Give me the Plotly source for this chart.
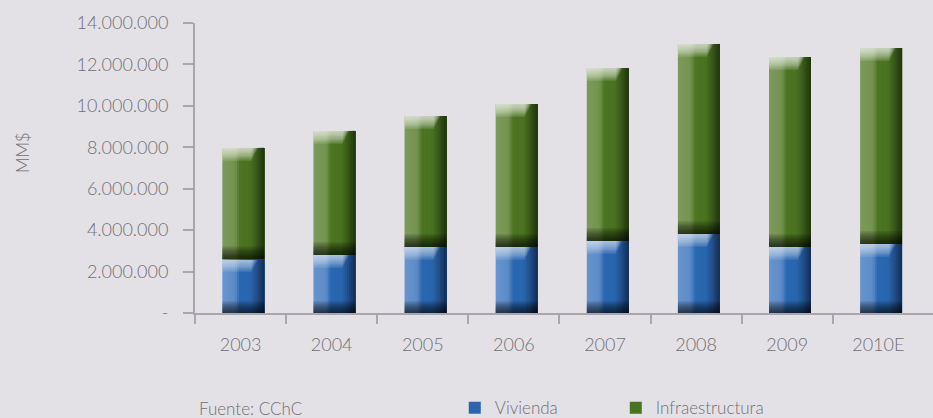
import numpy as np
import plotly.graph_objects as go

# Inversión en construcción por año (MM$)
years = ["2003", "2004", "2005", "2006", "2007", "2008", "2009", "2010E"]
vivienda = [2600000, 2800000, 3190000, 3190000, 3480000, 3810000, 3190000, 3330000]
infraestructura = [5370000, 5990000, 6320000, 6900000, 8350000, 9180000, 9170000, 9460000]
y_ticks = [0, 2000000, 4000000, 6000000, 8000000, 10000000, 12000000, 14000000]

# Estilo
BG = "#e3e1e6"
AXIS = "#a9a7ad"
TEXT = "#707074"
FONT = "Lato"
WEIGHT = 300
YMAX = 14000000
PLOT_H = 290  # alto del área de trazado en px
BAR_W = 0.46
BAR_SHIFT = 0.03  # las barras quedan levemente a la derecha del centro
N_STRIPES = 20
N_LAYERS = 10

# Degradado horizontal de cada serie (posición, color)
GRAD = {
    "Vivienda": [(0.0, "#6795ce"), (0.30, "#5c8bc7"), (0.42, "#2a67b1"),
                 (0.66, "#2966b0"), (0.82, "#214f8b"), (1.0, "#132c52")],
    "Infraestructura": [(0.0, "#7c9a5a"), (0.30, "#74934f"), (0.42, "#4c7422"),
                        (0.66, "#4a7320"), (0.82, "#385819"), (1.0, "#20340d")],
}
SOLID = {"Vivienda": "#2a66b0", "Infraestructura": "#4a7320"}
TOP_PX = {"Vivienda": 13, "Infraestructura": 13}
TOP_A = {"Vivienda": 0.085, "Infraestructura": 0.11}
BOT_PX = {"Vivienda": 12, "Infraestructura": 13}
BOT_A = {"Vivienda": 0.085, "Infraestructura": 0.09}


def hex_rgb(h):
    h = h.lstrip("#")
    return np.array([int(h[i:i + 2], 16) for i in (0, 2, 4)], dtype=float)


def grad_color(stops, t):
    for (t0, c0), (t1, c1) in zip(stops[:-1], stops[1:]):
        if t <= t1:
            f = (t - t0) / (t1 - t0)
            c = hex_rgb(c0) * (1 - f) + hex_rgb(c1) * f
            return "rgb(%d,%d,%d)" % tuple(np.round(c))
    c = hex_rgb(stops[-1][1])
    return "rgb(%d,%d,%d)" % tuple(c)


x = np.arange(len(years))
px_to_val = YMAX / PLOT_H
LEFT = -BAR_W / 2 + BAR_SHIFT
RIGHT = BAR_W / 2 + BAR_SHIFT

fig = go.Figure()


def add_segment(name, base, vals):
    base = np.asarray(base, dtype=float)
    vals = np.asarray(vals, dtype=float)
    top = base + vals
    stops = GRAD[name]
    mid = N_STRIPES // 2
    # franjas verticales (degradado horizontal), cada una cubre hasta el borde derecho
    for i in range(N_STRIPES):
        t = (i + 0.5) / N_STRIPES
        left = LEFT + i * BAR_W / N_STRIPES
        legend = i == mid
        fig.add_trace(go.Bar(
            x=x, y=vals, base=base, offset=left, width=RIGHT - left,
            marker=dict(color=SOLID[name] if legend else grad_color(stops, t),
                        line=dict(width=0)),
            name=name, showlegend=legend, legendgroup=name, hoverinfo="skip",
        ))
    # brillo superior (más ancho arriba, con borde en diagonal)
    h_top = TOP_PX[name] * px_to_val
    for k in range(1, N_LAYERS + 1):
        h = h_top * k / N_LAYERS
        frac = 0.86 - 0.16 * k / N_LAYERS
        fig.add_trace(go.Bar(
            x=x, y=np.full(len(x), h), base=top - h, offset=LEFT, width=BAR_W * frac,
            marker=dict(color="rgba(255,255,255,%.3f)" % TOP_A[name], line=dict(width=0)),
            showlegend=False, hoverinfo="skip",
        ))
    # sombra inferior
    h_bot = BOT_PX[name] * px_to_val
    for k in range(1, N_LAYERS + 1):
        h = h_bot * k / N_LAYERS
        fig.add_trace(go.Bar(
            x=x, y=np.full(len(x), h), base=base, offset=LEFT, width=BAR_W,
            marker=dict(color="rgba(0,0,0,%.3f)" % BOT_A[name], line=dict(width=0)),
            showlegend=False, hoverinfo="skip",
        ))


add_segment("Vivienda", np.zeros(len(x)), vivienda)
add_segment("Infraestructura", vivienda, infraestructura)


def fmt(v):
    return "-" if v == 0 else f"{v:,}".replace(",", ".")


font = dict(family=FONT, size=17, color=TEXT, weight=WEIGHT)

fig.update_layout(
    width=933, height=418,
    margin=dict(l=195, r=0, t=23, b=105, autoexpand=False),
    paper_bgcolor=BG, plot_bgcolor=BG,
    barmode="overlay",
    font=font,
    hovermode=False,
    showlegend=True,
    legend=dict(
        orientation="h", x=0.352, xanchor="left", y=-0.328, yanchor="middle",
        font=font, bgcolor="rgba(0,0,0,0)", entrywidth=116, traceorder="normal",
    ),
    xaxis=dict(
        range=[-0.5, 7.6], tickmode="array", tickvals=list(x), ticktext=years,
        ticks="", showgrid=False, zeroline=False,
        showline=True, linecolor=AXIS, linewidth=2,
        ticklabelstandoff=14, tickfont=dict(size=18),
        minor=dict(tickmode="array", tickvals=[v - 0.5 for v in x],
                   ticks="outside", ticklen=9, tickwidth=2, tickcolor=AXIS, showgrid=False),
        fixedrange=True,
    ),
    yaxis=dict(
        range=[0, YMAX], tickmode="array", tickvals=y_ticks,
        ticktext=[fmt(v) for v in y_ticks],
        ticks="outside", ticklen=10, tickwidth=2, tickcolor=AXIS,
        showgrid=False, zeroline=False,
        showline=True, linecolor=AXIS, linewidth=2,
        ticklabelstandoff=11, tickfont=dict(size=18),
        fixedrange=True,
    ),
    annotations=[
        dict(text="MM$", textangle=-90, xref="paper", yref="paper",
             x=(22 - 195) / 738, y=(313 - 153) / 290, xanchor="center", yanchor="middle",
             showarrow=False, font=font),
        dict(text="Fuente: CChC", xref="paper", yref="paper",
             x=(197 - 195) / 738, y=-0.328, xanchor="left", yanchor="middle",
             showarrow=False, font=font),
    ],
)

fig.write_html("out.html")
